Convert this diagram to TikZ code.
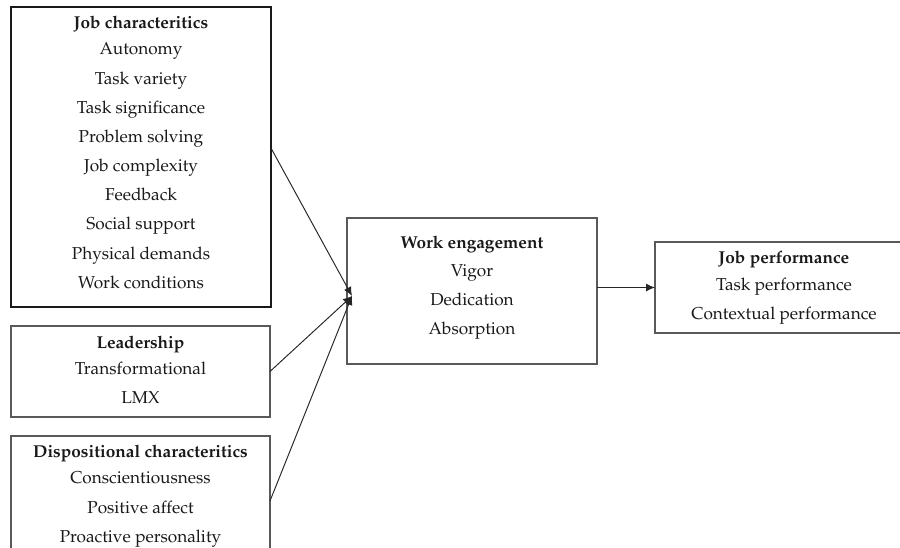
\documentclass[tikz,border=0pt]{standalone}
\usepackage[T1]{fontenc}
\usepackage{mathpazo}
\usetikzlibrary{arrows.meta,calc}
\begin{document}
\begin{tikzpicture}[x=0.02cm,y=-0.02cm,
  frame/.style={draw=black!65, line width=0.8pt, inner sep=0pt, outer sep=0pt},
  itemtext/.style={font=\fontsize{9.8}{12}\selectfont, anchor=base, inner sep=0pt, text=black!90},
  headtext/.style={itemtext, font=\fontsize{9.8}{12}\selectfont\bfseries},
  link/.style={line width=0.55pt, draw=black!85, -{Latex[length=1.8mm,width=1.6mm]}}]
\useasboundingbox (0,0) rectangle (900,548);
\clip (0,0) rectangle (900,548);

% boxes
\node[frame, draw=black!90, line width=1.1pt, minimum width=5.2cm, minimum height=6cm] (job) at (141,157) {};
\node[frame, minimum width=5.18cm, minimum height=1.82cm] (lead) at (140.5,371.5) {};
\node[frame, minimum width=5.18cm, minimum height=2.6cm] (disp) at (140.5,501) {};
\node[frame, minimum width=5cm, minimum height=2.92cm] (we) at (472,291) {};
\node[frame, minimum width=5.3cm, minimum height=1.82cm] (jp) at (787.5,287.5) {};

% job characteristics
\node[headtext] (jc0) at (141,28) {Job characteritics};
\foreach \t/\y [count=\i] in {Autonomy/54, Task variety/84, Task significance/113,
    Problem solving/142, Job complexity/171, Feedback/200, Social support/229,
    Physical demands/259, Work conditions/288}
  \node[itemtext] (jc\i) at (141,\y) {\t};

% leadership
\node[headtext] (ld0) at (140.5,348) {Leadership};
\node[itemtext] (ld1) at (140.5,374) {Transformational};
\node[itemtext] (ld2) at (140.5,403) {LMX};

% dispositional characteristics
\node[headtext] (dc0) at (140.5,457) {Dispositional characteritics};
\node[itemtext] (dc1) at (140.5,483) {Conscientiousness};
\node[itemtext] (dc2) at (140.5,513) {Positive affect};
\node[itemtext] (dc3) at (140.5,542) {Proactive personality};

% work engagement
\node[headtext] (we0) at (472,248) {Work engagement};
\node[itemtext] (we1) at (472,276) {Vigor};
\node[itemtext] (we2) at (472,305) {Dedication};
\node[itemtext] (we3) at (472,334) {Absorption};

% job performance
\node[headtext] (jp0) at (784,263) {Job performance};
\node[itemtext] (jp1) at (784,290) {Task performance};
\node[itemtext] (jp2) at (784,319) {Contextual performance};

% connectors
\coordinate (hub) at (352,296);
\draw[link] ($(job.north east)!0.47!(job.south east)$) -- (hub);
\draw[link] (lead.east) -- (hub);
\draw[link] ($(disp.north east)!0.5!(disp.south east)$) -- (hub);
\draw[link] (we.east |- jp.west) -- (jp.west);
\end{tikzpicture}
\end{document}
